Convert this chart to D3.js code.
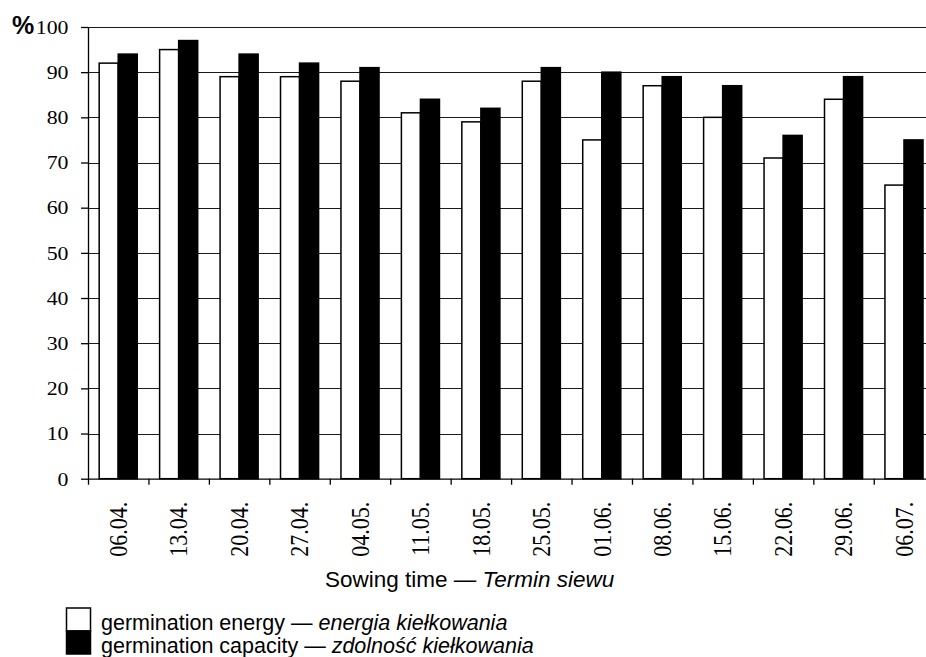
<!DOCTYPE html>
<html>
<head>
<meta charset="utf-8">
<script src="https://cdn.jsdelivr.net/npm/d3@7"></script>
<style>
  html, body { margin: 0; padding: 0; background: #fff; }
  svg { display: block; }
</style>
</head>
<body>
<svg id="chart" width="926" height="657"></svg>
<script>
// Sowing dates (categories)
const sowingDates = ["06.04.", "13.04.", "20.04.", "27.04.", "04.05.", "11.05.", "18.05.",
                     "25.05.", "01.06.", "08.06.", "15.06.", "22.06.", "29.06.", "06.07."];
// Germination energy, %
const germinationEnergy = [92, 95, 89, 89, 88, 81, 79, 88, 75, 87, 80, 71, 84, 65];
// Germination capacity, %
const germinationCapacity = [94, 97, 94, 92, 91, 84, 82, 91, 90, 89, 87, 76, 89, 75];
// Y axis ticks
const yTicks = [0, 10, 20, 30, 40, 50, 60, 70, 80, 90, 100];
// Series names
const seriesKeys = ["energy", "capacity"];
const legendLabels = [
  ["germination energy — ", "energia kiełkowania"],
  ["germination capacity — ", "zdolność kiełkowania"]
];

const svg = d3.select("#chart");
const plotLeft = 88, plotRight = 934.2, plotTop = 27, plotBottom = 478.7;
const serif = "'Liberation Serif', 'Times New Roman', serif";
const sans = "'Liberation Sans', Arial, sans-serif";
const stretch = 1.18;

const y = d3.scaleLinear().domain([0, 100]).range([plotBottom, plotTop]);
const x = d3.scaleBand().domain(sowingDates).range([plotLeft, plotRight])
  .paddingInner(0.37).paddingOuter(0.185);
const xSub = d3.scaleBand().domain(seriesKeys).range([0, x.bandwidth()]);
// boundary ticks between sowing dates
const xEdges = d3.scaleLinear().domain([0, sowingDates.length]).range([plotLeft, plotRight]);

// horizontal gridlines
svg.append("g")
  .selectAll("line")
  .data(yTicks.filter(d => d > 0))
  .join("line")
  .attr("x1", plotLeft).attr("x2", plotRight)
  .attr("y1", d => Math.round(y(d)) + 0.5).attr("y2", d => Math.round(y(d)) + 0.5)
  .attr("stroke", "#1a1a1a").attr("stroke-width", 1);

// bars
const rows = sowingDates.map((d, i) => ({
  date: d,
  values: [
    { key: "energy", v: germinationEnergy[i] },
    { key: "capacity", v: germinationCapacity[i] }
  ]
}));

const groups = svg.append("g").selectAll("g")
  .data(rows).join("g")
  .attr("transform", d => `translate(${x(d.date)},0)`);

groups.selectAll("rect")
  .data(d => d.values).join("rect")
  .attr("x", d => xSub(d.key))
  .attr("width", xSub.bandwidth())
  .attr("y", d => y(d.v))
  .attr("height", d => y(0) - y(d.v))
  .attr("fill", d => d.key === "energy" ? "#fff" : "#000")
  .attr("stroke", "#000")
  .attr("stroke-width", 1.5);

// y axis
const yAxis = svg.append("g")
  .attr("transform", `translate(${plotLeft},0)`)
  .call(d3.axisLeft(y).tickValues(yTicks).tickSize(7).tickSizeOuter(0).tickPadding(12));
yAxis.attr("font-family", null).attr("font-size", null);
yAxis.select(".domain").attr("stroke", "#000").attr("stroke-width", 1.3);
yAxis.selectAll(".tick line").attr("stroke", "#000").attr("stroke-width", 1.3);
yAxis.selectAll(".tick text")
  .style("font-family", serif).style("font-size", "18.5px").attr("fill", "#000")
  .attr("dy", "0.34em")
  .attr("transform", function () {
    const tx = +d3.select(this).attr("x");
    d3.select(this).attr("x", 0);
    return `translate(${tx - 0.5},0) scale(${stretch},1)`;
  });

// x axis: boundary ticks
const xAxisTicks = svg.append("g")
  .attr("transform", `translate(0,${plotBottom})`)
  .call(d3.axisBottom(xEdges).tickValues(d3.range(0, sowingDates.length + 1))
    .tickSize(6).tickSizeOuter(0).tickFormat(""));
xAxisTicks.select(".domain").attr("stroke", "#000").attr("stroke-width", 1.3);
xAxisTicks.selectAll(".tick line").attr("stroke", "#000").attr("stroke-width", 1.3);

// x axis: date labels, rotated
const xAxisLabels = svg.append("g")
  .attr("transform", `translate(0,${plotBottom})`)
  .call(d3.axisBottom(x).tickSize(0).tickSizeOuter(0));
xAxisLabels.attr("font-family", null).attr("font-size", null);
xAxisLabels.select(".domain").remove();
xAxisLabels.selectAll(".tick text")
  .style("font-family", serif).style("font-size", "22px").attr("fill", "#000")
  .attr("x", 0).attr("y", 0).attr("dy", "0.34em")
  .attr("text-anchor", "end")
  .attr("transform", `translate(0,23) scale(${stretch},1) rotate(-90)`);

// percent sign
svg.append("text")
  .attr("x", 12).attr("y", 34)
  .style("font-family", sans).attr("font-weight", "bold").style("font-size", "25px")
  .text("%");

// axis title
const title = svg.append("text")
  .attr("x", 325).attr("y", 586.5)
  .style("font-family", sans).style("font-size", "22.5px").attr("fill", "#000");
title.append("tspan").text("Sowing time — ");
title.append("tspan").attr("font-style", "italic").text("Termin siewu");

// legend
const legend = svg.append("g");
const legendRows = legend.selectAll("g")
  .data(seriesKeys).join("g")
  .attr("transform", (d, i) => `translate(0,${608 + i * 23})`);
legendRows.append("rect")
  .attr("x", 66.5).attr("y", 0).attr("width", 24).attr("height", 23)
  .attr("fill", d => d === "energy" ? "#fff" : "#000")
  .attr("stroke", "#000").attr("stroke-width", 1.5);
const legendText = legendRows.append("text")
  .attr("x", 101).attr("y", 22)
  .style("font-family", sans).style("font-size", "21.5px").attr("fill", "#000");
legendText.append("tspan").text((d, i) => legendLabels[i][0]);
legendText.append("tspan").attr("font-style", "italic").text((d, i) => legendLabels[i][1]);
</script>
</body>
</html>
